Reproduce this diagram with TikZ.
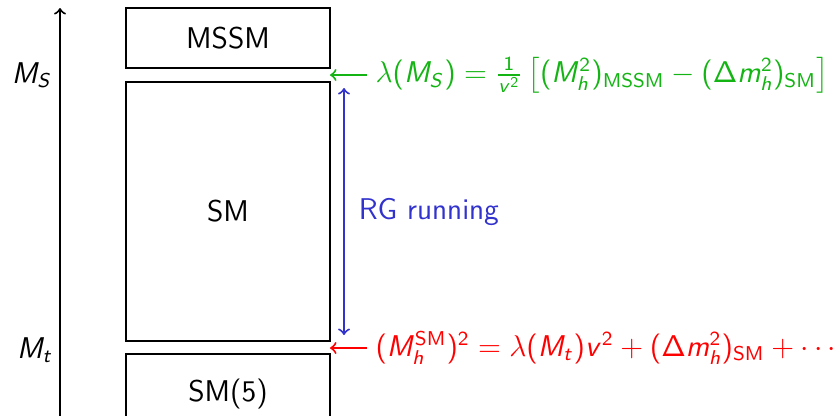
\documentclass[tikz,border=0pt]{standalone}
\usepackage{amsmath}
\usepackage{xcolor}
\usepackage{tikz}
\renewcommand{\familydefault}{\sfdefault}
% Matematica in sans serif
\SetSymbolFont{operators}{normal}{OT1}{cmss}{m}{n}
\DeclareMathAlphabet{\mathsfit}{OT1}{cmss}{m}{sl}
\newcommand{\vs}[1]{\mathsfit{#1}}

\begin{document}
\begin{tikzpicture}[x=0.4pt,y=-0.4pt]

% Colori
\definecolor{colMatch}{RGB}{20,180,20}
\definecolor{colPole}{RGB}{255,0,0}
\definecolor{colRun}{RGB}{50,50,205}

% Stili
\tikzset{
  scatola/.style={draw, line width=0.8pt, minimum width=81.6pt, inner sep=0pt, font=\large},
  freccia/.style={->, line width=0.8pt}
}

\useasboundingbox (0,0) rectangle (838,415);

% Asse delle scale
\coordinate (asseBasso) at (60,430);
\coordinate (asseAlto) at (60,8);
\draw[freccia] (asseBasso) -- (asseAlto);
\node[font=\large] (scalaS) at (32,75) {$\vs{M}_{\vs{S}}$};
\node[font=\large] (scalaT) at (35,350) {$\vs{M}_{\vs{t}}$};

% Teorie efficaci
\node[scatola, minimum height=24pt] (mssm) at (228,38) {MSSM};
\node[scatola, minimum height=103.6pt] (sm) at (228,211.5) {SM};
\node[scatola, minimum height=32pt] (smcinque) at (228,394) {SM(5)};

% Matching a M_S
\coordinate (puntoS) at (330,75);
\node[anchor=west, text=colMatch, font=\large, inner sep=0pt] (matchS) at (375,75)
  {$\lambda(\vs{M}_{\vs{S}})=\frac{1}{\vs{v}^2}\,\big[(\vs{M}_{\vs{h}}^2)_{\text{MSSM}}-(\Delta \vs{m}_{\vs{h}}^2)_{\text{SM}}\big]$};
\draw[freccia, colMatch] (matchS.west) ++(-8,0) -- (puntoS);

% Matching a M_t
\coordinate (puntoT) at (330,348);
\node[anchor=west, text=colPole, font=\large, inner sep=0pt] (matchT) at (375,348)
  {$(\vs{M}_{\vs{h}}^{\text{SM}})^2=\lambda(\vs{M}_{\vs{t}})\vs{v}^2+(\Delta \vs{m}_{\vs{h}}^2)_{\text{SM}}+\cdots$};
\draw[freccia, colPole] (matchT.west) ++(-8,0) -- (puntoT);

% Running RG
\coordinate (runAlto) at (344,88);
\coordinate (runBasso) at (344,335);
\draw[<->, colRun, line width=0.8pt] (runAlto) -- (runBasso);
\node[anchor=west, text=colRun, font=\large] (running) at (350,212) {RG running};

\end{tikzpicture}
\end{document}
